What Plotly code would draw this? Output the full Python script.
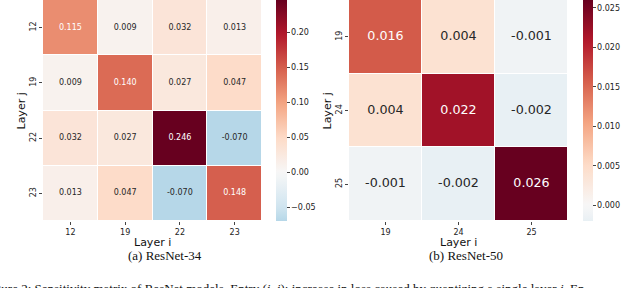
import numpy as np
import plotly.graph_objects as go

# ---------------- data ----------------
layers_a = ["12", "19", "22", "23"]
values_a = [
    [0.115, 0.009, 0.032, 0.013],
    [0.009, 0.140, 0.027, 0.047],
    [0.032, 0.027, 0.246, -0.070],
    [0.013, 0.047, -0.070, 0.148],
]
ticks_a = [-0.05, 0.00, 0.05, 0.10, 0.15, 0.20]

layers_b = ["19", "24", "25"]
values_b = [
    [0.016, 0.004, -0.001],
    [0.004, 0.022, -0.002],
    [-0.001, -0.002, 0.026],
]
ticks_b = [0.000, 0.005, 0.010, 0.015, 0.020, 0.025]

xlabel = "Layer i"
ylabel = "Layer j"
title_a = "(a) ResNet-34"
title_b = "(b) ResNet-50"
caption = ("Figure 2: Sensitivity matrix of ResNet models. Entry (<i>i</i>, <i>j</i>): "
           "increase in loss caused by quantizing a single layer <i>i</i>. En")

# ---------------- colormap helpers (seaborn RdBu_r, center=0) ----------------
RDBU_R = ["#053061", "#2166ac", "#4393c3", "#92c5de", "#d1e5f0", "#f7f7f7",
          "#fddbc7", "#f4a582", "#d6604d", "#b2182b", "#67001f"]
_rgb = np.array([[int(c[i:i + 2], 16) for i in (1, 3, 5)] for c in RDBU_R], float)


def cmap(t):
    t = min(max(t, 0.0), 1.0)
    pos = t * (len(_rgb) - 1)
    i = min(int(pos), len(_rgb) - 2)
    f = pos - i
    return _rgb[i] * (1 - f) + _rgb[i + 1] * f


def to_hex(rgb):
    return "#%02x%02x%02x" % tuple(int(round(v)) for v in rgb)


def centered_scale(vmin, vmax, n=41):
    vr = max(vmax, -vmin)
    cmin = (vmin + vr) / (2 * vr)
    cmax = (vmax + vr) / (2 * vr)
    ts = np.linspace(cmin, cmax, n)
    return [[(t - cmin) / (cmax - cmin), to_hex(cmap(t))] for t in ts]


def text_color(v, vmin, vmax):
    vr = max(vmax, -vmin)
    c = cmap((v + vr) / (2 * vr)) / 255.0
    c = np.where(c <= 0.03928, c / 12.92, ((c + 0.055) / 1.055) ** 2.4)
    lum = 0.2126 * c[0] + 0.7152 * c[1] + 0.0722 * c[2]
    return "#262626" if lum > 0.408 else "white"


W, H = 640, 288
FONT = "DejaVu Sans"
SERIF = "Liberation Serif"


def px_x(p):
    return p / W


def px_y(p):
    return 1 - p / H


fig = go.Figure()
annots = []


def add_panel(layers, values, ticks, fmt, ax, cax, xdom, cb_x, cb_thick, textsize):
    z = np.array(values)
    vmin, vmax = float(z.min()), float(z.max())
    xa = "x" if ax == 1 else "x%d" % ax
    ya = "y" if ax == 1 else "y%d" % ax
    fig.add_trace(go.Heatmap(
        z=values, x=layers, y=layers, coloraxis=cax, xaxis=xa, yaxis=ya,
        xgap=1, ygap=1, hoverinfo="skip"))
    xs, ys, ts, cs = [], [], [], []
    for r, ly in enumerate(layers):
        for c, lx in enumerate(layers):
            xs.append(lx)
            ys.append(ly)
            ts.append("%.3f" % values[r][c])
            cs.append(text_color(values[r][c], vmin, vmax))
    fig.add_trace(go.Scatter(
        x=xs, y=ys, text=ts, mode="text", xaxis=xa, yaxis=ya,
        textfont=dict(family=FONT, size=textsize, color=cs),
        hoverinfo="skip", showlegend=False))
    sfx = "" if ax == 1 else str(ax)
    tickfont = dict(family=FONT, size=8, color="#222")
    fig.layout["xaxis" + sfx] = dict(
        domain=xdom, anchor=ya, type="category", categoryorder="array",
        categoryarray=layers, showgrid=False, zeroline=False, showline=False,
        ticks="outside", ticklen=3, tickwidth=1, tickcolor="#444",
        tickfont=tickfont)
    fig.layout["yaxis" + sfx] = dict(
        domain=[px_y(221), 1], anchor=xa, type="category", categoryorder="array",
        categoryarray=layers, autorange="reversed", showgrid=False, zeroline=False,
        showline=False, ticks="outside", ticklen=3, tickwidth=1, tickcolor="#444",
        tickangle=-90, tickfont=tickfont)
    fig.layout[cax] = dict(
        cmin=vmin, cmax=vmax, colorscale=centered_scale(vmin, vmax),
        colorbar=dict(
            x=cb_x, xanchor="left", xref="paper", y=1, yanchor="top",
            len=221 / H, lenmode="fraction", thickness=cb_thick,
            xpad=0, ypad=0, outlinewidth=0,
            tickvals=ticks, tickformat=fmt, ticks="outside", ticklen=3,
            tickwidth=1, tickcolor="#444", tickfont=tickfont))
    # axis titles
    xc = (xdom[0] + xdom[1]) / 2
    annots.append(dict(text=xlabel, x=xc, y=px_y(242), xanchor="center", yanchor="middle",
                       borderpad=0,
                       font=dict(family=FONT, size=11, color="#111")))
    annots.append(dict(text=ylabel, x=xdom[0] - px_x(22), y=px_y(110.5), xanchor="center",
                       yanchor="middle", textangle=-90, borderpad=0,
                       font=dict(family=FONT, size=11, color="#111")))


add_panel(layers_a, values_a, ticks_a, ".2f", 1, "coloraxis",
          [px_x(43), px_x(262)], px_x(276), 11, 8)
add_panel(layers_b, values_b, ticks_b, ".3f", 2, "coloraxis2",
          [px_x(349), px_x(568)], px_x(583), 10, 12.7)

annots += [
    dict(text=title_a, x=px_x(165), y=px_y(255.5), xanchor="center", yanchor="middle",
         borderpad=0, font=dict(family=SERIF, size=13, color="#111")),
    dict(text=title_b, x=px_x(466), y=px_y(255.5), xanchor="center", yanchor="middle",
         borderpad=0, font=dict(family=SERIF, size=13, color="#111")),
    dict(text=caption, x=px_x(-17), y=px_y(280), xanchor="left", yanchor="top",
         borderpad=0, font=dict(family=SERIF, size=13, color="#111")),
]
for a in annots:
    a.update(xref="paper", yref="paper", showarrow=False)

fig.update_layout(
    width=W, height=H, margin=dict(l=0, r=0, t=0, b=0),
    paper_bgcolor="white", plot_bgcolor="white",
    annotations=annots, showlegend=False,
)

fig.write_html("out.html",
               config={"displayModeBar": False, "staticPlot": True},
               post_script="document.body.style.margin='0';document.body.style.overflow='hidden';")
